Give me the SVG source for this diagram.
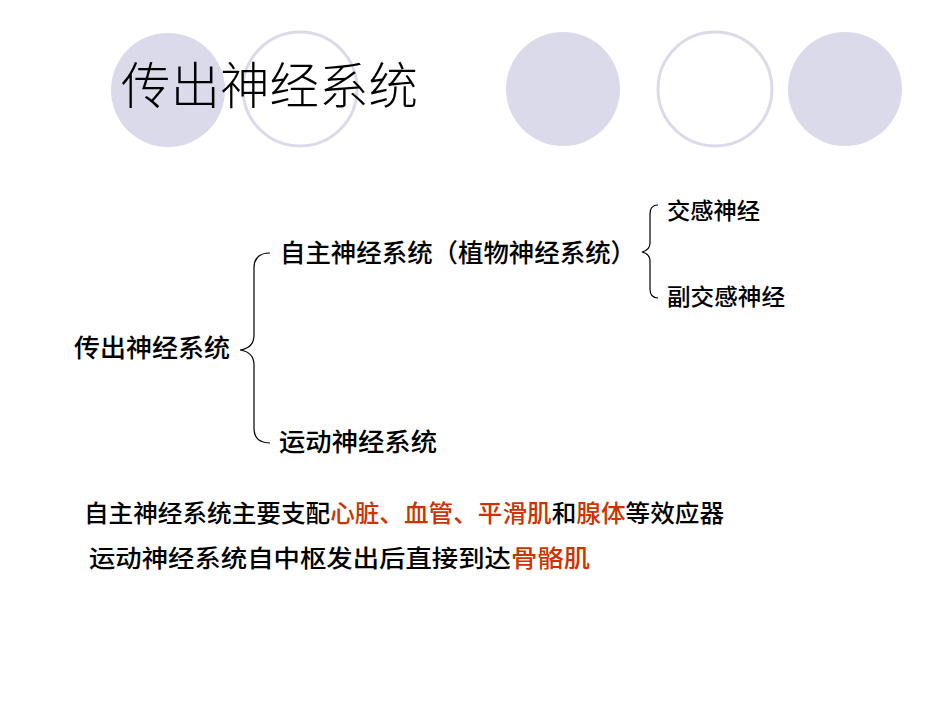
<svg xmlns="http://www.w3.org/2000/svg" width="950" height="713" viewBox="0 0 950 713">
<style>
.t{font-family:"Noto Sans CJK SC","Liberation Sans",sans-serif;fill:#000}
.b{font-size:25.5px;font-weight:500}
.s{font-size:23px;font-weight:500}
.n{font-size:24px;font-weight:500}
.r{fill:#CC3300}
.brace{fill:none;stroke:#000;stroke-width:1.2}
</style>
<rect width="950" height="713" fill="#fff"/>
<g id="decor">
<circle cx="168" cy="90" r="57" fill="#DADAEB"/>
<circle cx="300" cy="89" r="57" fill="none" stroke="#DADAEB" stroke-width="3"/>
<circle cx="563" cy="89" r="57" fill="#DADAEB"/>
<circle cx="715" cy="89" r="57" fill="none" stroke="#DADAEB" stroke-width="3"/>
<circle cx="845" cy="89" r="57" fill="#DADAEB"/>
</g>
<g id="title"><text class="t" x="121" y="104" font-size="49.5" font-weight="300" textLength="297" lengthAdjust="spacingAndGlyphs">传出神经系统</text></g>
<g id="connectors">
<path class="brace" d="M270,253 Q254,253 254,268 L254,335 Q254,348 240,350 Q254,352 254,365 L254,428 Q254,443 270,443"/>
<path class="brace" d="M658,205 Q650,205 650,214 L650,243 Q650,250 642,252 Q650,254 650,261 L650,289 Q650,298 658,298"/>
</g>
<g id="n_root"><text class="t b" x="74" y="357" textLength="156" lengthAdjust="spacingAndGlyphs">传出神经系统</text></g>
<g id="n_auto"><text class="t b" x="280" y="262" textLength="356" lengthAdjust="spacingAndGlyphs">自主神经系统（植物神经系统）</text></g>
<g id="n_motor"><text class="t b" x="279" y="451" textLength="158" lengthAdjust="spacingAndGlyphs">运动神经系统</text></g>
<g id="n_symp"><text class="t s" x="667" y="219" textLength="93" lengthAdjust="spacingAndGlyphs">交感神经</text></g>
<g id="n_para"><text class="t s" x="667" y="305" textLength="118" lengthAdjust="spacingAndGlyphs">副交感神经</text></g>
<g id="note1"><text class="t n" x="84" y="522" textLength="640" lengthAdjust="spacingAndGlyphs">自主神经系统主要支配<tspan class="r">心脏、血管、平滑肌</tspan>和<tspan class="r">腺体</tspan>等效应器</text></g>
<g id="note2"><text class="t n" x="89" y="567" textLength="501" lengthAdjust="spacingAndGlyphs">运动神经系统自中枢发出后直接到达<tspan class="r">骨骼肌</tspan></text></g>
</svg>
